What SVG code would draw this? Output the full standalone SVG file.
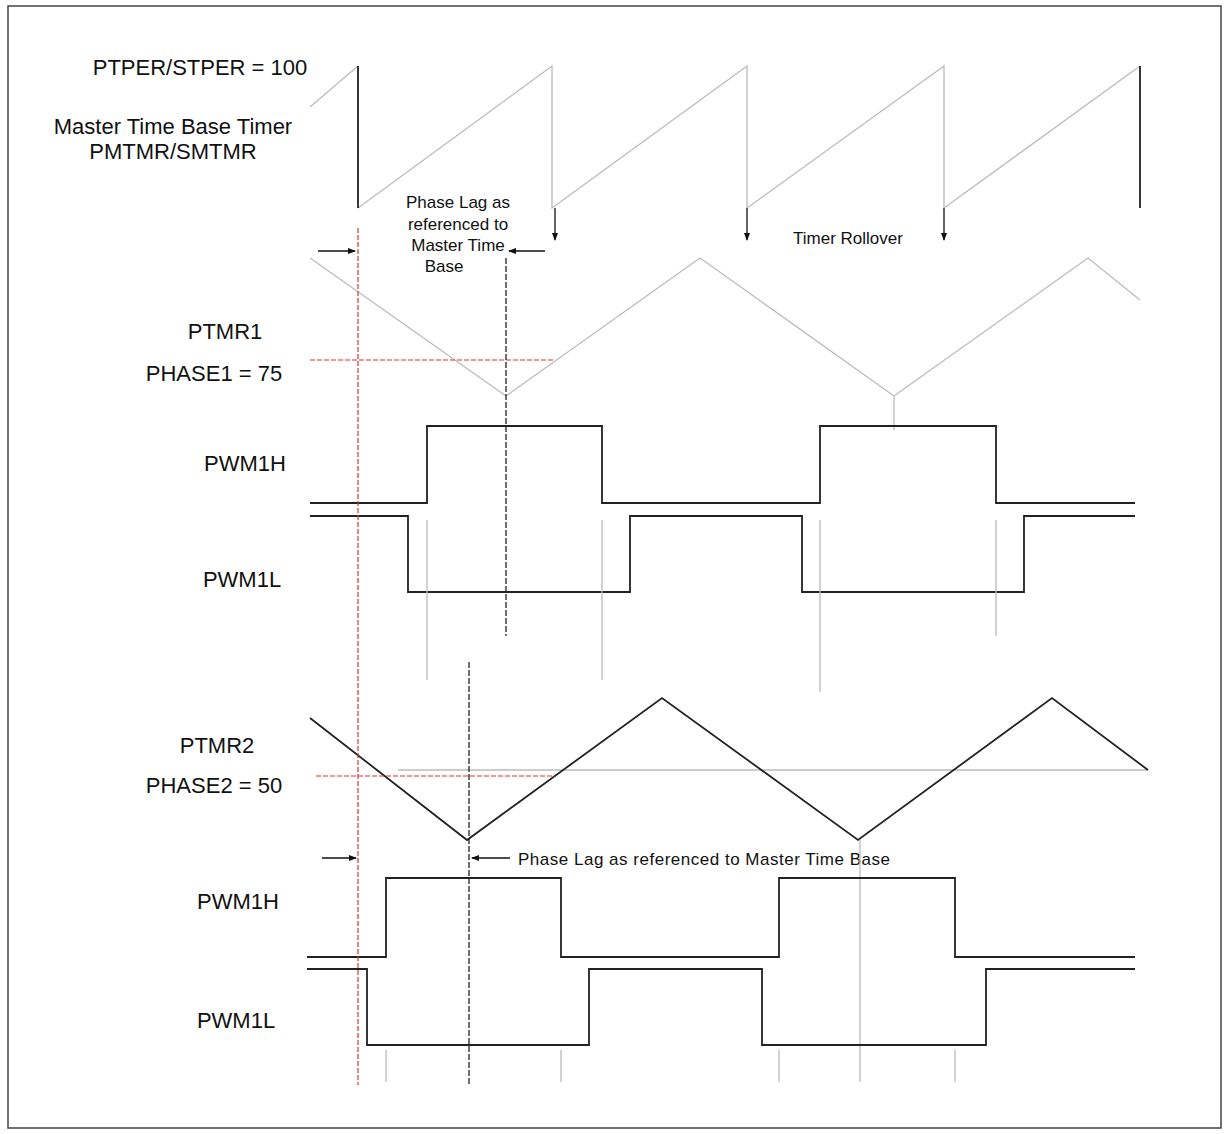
<svg xmlns="http://www.w3.org/2000/svg" width="1229" height="1134" viewBox="0 0 1229 1134">
<style>
text{font-family:"Liberation Sans",Arial,sans-serif;fill:#111}
.lbl{font-size:22px;text-anchor:middle}
.sm{font-size:17px}
.g{stroke:#bbb;stroke-width:1.3;fill:none}
.k{stroke:#222;stroke-width:1.8;fill:none}
.r{stroke:#d33;stroke-width:1.2;fill:none;stroke-dasharray:5 2}
.kd{stroke:#222;stroke-width:1.3;fill:none;stroke-dasharray:6 2}
.a{stroke:#111;stroke-width:1.3;fill:none;marker-end:url(#ah)}
</style>
<defs><marker id="ah" markerWidth="8" markerHeight="8" refX="7" refY="4" orient="auto" markerUnits="userSpaceOnUse"><path d="M0,1 L8,4 L0,7z" fill="#111"/></marker></defs>
<rect x="0" y="0" width="1229" height="1134" fill="#fff"/>
<rect x="8" y="6" width="1213" height="1122" fill="none" stroke="#444" stroke-width="1.5"/>
<g id="labels">
<text class="lbl" x="200" y="75">PTPER/STPER = 100</text>
<text class="lbl" x="173" y="134">Master Time Base Timer</text>
<text class="lbl" x="173" y="159">PMTMR/SMTMR</text>
<text class="lbl" x="225" y="339">PTMR1</text>
<text class="lbl" x="214" y="381">PHASE1 = 75</text>
<text class="lbl" x="245" y="471">PWM1H</text>
<text class="lbl" x="242" y="587">PWM1L</text>
<text class="lbl" x="217" y="753">PTMR2</text>
<text class="lbl" x="214" y="793">PHASE2 = 50</text>
<text class="lbl" x="238" y="909">PWM1H</text>
<text class="lbl" x="236" y="1028">PWM1L</text>
<text class="sm" x="458" y="208" text-anchor="middle">Phase Lag as</text>
<text class="sm" x="458" y="230" text-anchor="middle">referenced to</text>
<text class="sm" x="458" y="251" text-anchor="middle">Master Time</text>
<text class="sm" x="444" y="272" text-anchor="middle">Base</text>
<text class="sm" x="848" y="244" text-anchor="middle">Timer Rollover</text>
<text class="sm" x="518" y="865" textLength="372">Phase Lag as referenced to Master Time Base</text>
</g>
<g id="master">
<path class="g" d="M310,107 L358,66 M358,208 L552,66 L552,208 L747,66 L747,208 L944,66 L944,208 L1140,66"/>
<path class="k" d="M358,66 V208 M1140,66 V208"/>
</g>
<g id="ptmr1"><path class="g" d="M310,258 L506,396 L700,258 L894,396 L1088,258 L1140,300 M894,396 V430"/></g>
<g id="pwm1">
<path class="k" d="M310,503 H427 V426 H602 V503 H820 V426 H996 V503 H1135"/>
<path class="k" d="M310,516 H408 V592 H630 V516 H802 V592 H1024 V516 H1135"/>
<path class="g" d="M427,520 V680 M602,520 V680 M820,520 V692 M996,520 V636"/>
</g>
<g id="ptmr2">
<path class="g" d="M398,770 H1148"/>
<path class="k" d="M310,718 L467,840 L662,698 L858,840 L1052,698 L1148,770"/>
<path class="g" d="M860,840 V1082"/>
</g>
<g id="pwm2">
<path class="k" d="M307,957 H386 V878 H561 V957 H779 V878 H955 V957 H1135"/>
<path class="k" d="M307,969 H367 V1045 H589 V969 H762 V1045 H986 V969 H1135"/>
<path class="g" d="M386,1050 V1082 M561,1050 V1082 M779,1050 V1082 M955,1050 V1082"/>
</g>
<g id="connectors">
<path class="r" d="M358,228 V1085 M310,360 H555 M316,776 H555"/>
<path class="kd" d="M506,258 V636 M469,662 V1085"/>
<path class="a" d="M555,208 V240"/>
<path class="a" d="M747,208 V240"/>
<path class="a" d="M944,208 V240"/>
<path class="a" d="M318,251 H355"/>
<path class="a" d="M545,251 H509"/>
<path class="a" d="M322,858 H356"/>
<path class="a" d="M510,858 H472"/>
</g>
</svg>
